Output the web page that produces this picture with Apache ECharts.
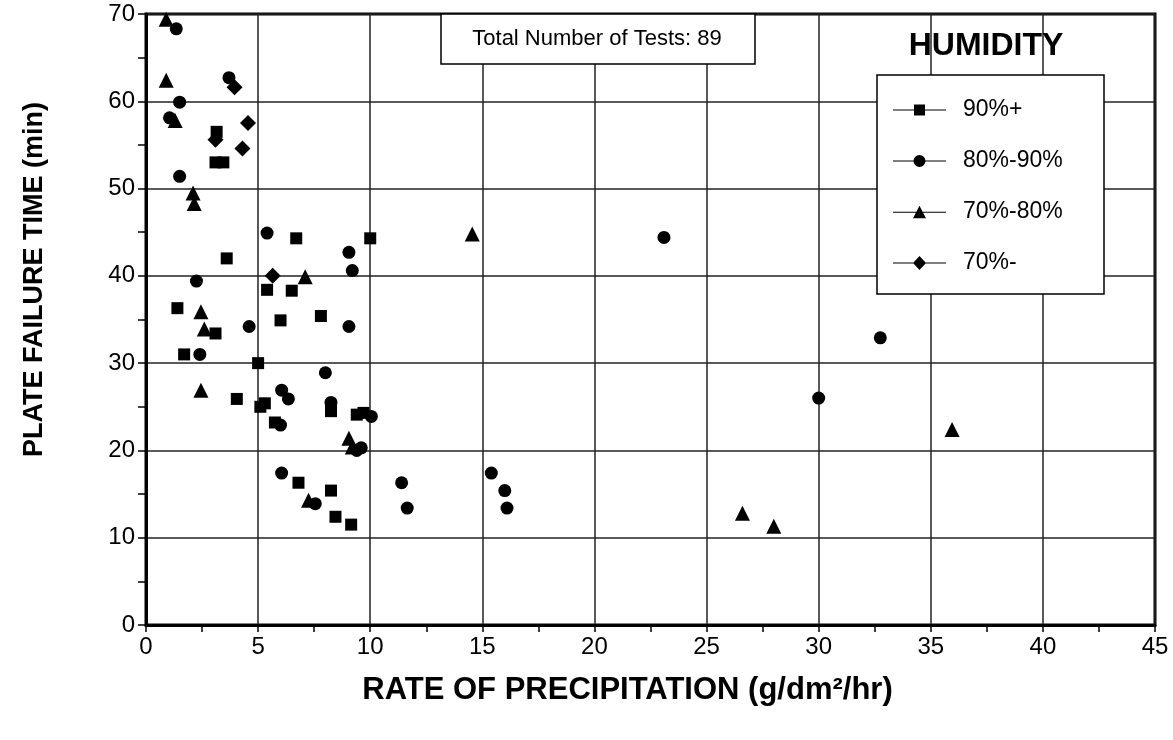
<!DOCTYPE html>
<html><head><meta charset="utf-8">
<script src="https://cdn.jsdelivr.net/npm/echarts@6/dist/echarts.min.js"></script>
<style>html,body{margin:0;padding:0;background:#fff}#c{width:1173px;height:740px}</style>
</head><body><div id="c"></div>
<script>
// Data: [rate of precipitation (g/dm²/hr), plate failure time (min)]
const humidity90plus = [
  [3.15,56.5],[3.1,53.0],[3.45,53.0],[6.7,44.3],[10.0,44.3],[3.6,42.0],[5.4,38.4],[6.5,38.3],
  [1.4,36.3],[6.0,34.9],[7.8,35.4],[3.1,33.4],[1.7,31.0],[5.0,30.0],[4.05,25.9],[5.1,25.0],
  [5.3,25.4],[5.75,23.2],[8.25,24.5],[9.4,24.1],[9.7,24.3],[6.8,16.3],[8.25,15.4],[8.45,12.4],[9.15,11.5]
];
const humidity80to90 = [
  [1.35,68.3],[3.7,62.7],[1.5,59.9],[1.05,58.1],[1.5,51.4],[5.4,44.9],[9.05,42.7],[9.2,40.6],
  [2.25,39.4],[4.6,34.2],[9.05,34.2],[2.4,31.0],[8.0,28.9],[6.05,26.9],[6.35,25.9],[8.25,25.5],
  [10.05,23.9],[6.0,22.9],[9.4,20.0],[9.6,20.3],[6.05,17.4],[7.55,13.9],[11.4,16.3],[11.65,13.4],
  [15.4,17.4],[16.0,15.4],[16.1,13.4],[23.1,44.4],[32.75,32.9],[30.0,26.0]
];
const humidity70to80 = [
  [0.9,69.4],[0.9,62.4],[1.3,57.8],[2.1,49.5],[2.15,48.3],[2.45,35.9],[2.6,33.9],[2.45,26.9],
  [7.1,39.9],[9.05,21.4],[9.2,20.4],[7.25,14.3],[14.55,44.8],[26.6,12.8],[28.0,11.3],[35.95,22.4]
];
const humidityBelow70 = [
  [3.95,61.6],[4.55,57.5],[3.1,55.6],[4.3,54.6],[5.65,40.0]
];
const seriesNames = ['90%+','80%-90%','70%-80%','70%-'];
const xTicks = {min:0, max:45, interval:5};
const yTicks = {min:0, max:70, interval:10};

const FONT = '"Liberation Sans", Arial, sans-serif';
const symbols = ['rect','circle','triangle','diamond'];
const sizes = [12,13,15,16];
const icons = [
  'path://M0,6.5L53,6.5L53,7.5L0,7.5Z M21,1.5L32,1.5L32,12.5L21,12.5Z',
  'path://M0,6.5L53,6.5L53,7.5L0,7.5Z M32.5,7A6,6 0 1 1 20.5,7A6,6 0 1 1 32.5,7Z',
  'path://M0,6.5L53,6.5L53,7.5L0,7.5Z M26.5,0.5L33,13L20,13Z',
  'path://M0,6.5L53,6.5L53,7.5L0,7.5Z M26.5,0L33,7L26.5,14L20,7Z'
];
const datasets = [humidity90plus, humidity80to90, humidity70to80, humidityBelow70];

const chart = echarts.init(document.getElementById('c'), null, {renderer:'canvas'});
chart.setOption({
  animation:false,
  backgroundColor:'#fff',
  grid:{left:146,right:18,top:14,bottom:115,show:true,borderColor:'#000',borderWidth:3,backgroundColor:'transparent'},
  xAxis:{type:'value',min:xTicks.min,max:xTicks.max,interval:xTicks.interval,
    name:'RATE OF PRECIPITATION (g/dm²/hr)',nameLocation:'middle',nameGap:50,
    nameTextStyle:{fontFamily:FONT,fontWeight:'bold',fontSize:31,color:'#000',padding:[0,46,0,0]},
    axisLine:{show:true,lineStyle:{color:'#000',width:3}},
    axisTick:{show:true,inside:false,length:7,lineStyle:{color:'#000',width:1.5}},
    minorTick:{show:true,splitNumber:2,length:7,lineStyle:{color:'#000',width:1.5}},
    axisLabel:{fontFamily:FONT,fontSize:24,color:'#000',margin:10},
    splitLine:{show:true,lineStyle:{color:'#222',width:1.5}}},
  yAxis:{type:'value',min:yTicks.min,max:yTicks.max,interval:yTicks.interval,
    name:'PLATE FAILURE TIME (min)',nameLocation:'middle',nameGap:98,
    nameTextStyle:{fontFamily:FONT,fontWeight:'bold',fontSize:27,color:'#000',padding:[0,0,0,80]},
    axisLine:{show:true,lineStyle:{color:'#000',width:3}},
    axisTick:{show:true,inside:false,length:8,lineStyle:{color:'#000',width:1.5}},
    minorTick:{show:true,splitNumber:2,length:8,lineStyle:{color:'#000',width:1.5}},
    axisLabel:{fontFamily:FONT,fontSize:24,color:'#000',margin:11},
    splitLine:{show:true,lineStyle:{color:'#222',width:1.5}}},
  legend:{left:893,top:98,orient:'vertical',padding:0,itemGap:27,itemWidth:53,itemHeight:14,
    textStyle:{fontFamily:FONT,fontSize:23,color:'#000',padding:[0,0,0,12],lineHeight:24},
    data:seriesNames.map((n,i)=>({name:n,icon:icons[i],itemStyle:{color:'#000'}})),
    selectedMode:false},
  graphic:[
    {type:'rect',z:100,shape:{x:441,y:14,width:314,height:50},style:{fill:'#fff',stroke:'#000',lineWidth:1.5}},
    {type:'text',z:101,style:{x:597,y:39,text:'Total Number of Tests: 89',font:'22px '+FONT,fill:'#000',textAlign:'center',textVerticalAlign:'middle'}},
    {type:'text',z:101,style:{x:986,y:46,text:'HUMIDITY',font:'bold 32px '+FONT,fill:'#000',textAlign:'center',textVerticalAlign:'middle'}},
    {type:'rect',z:1,shape:{x:877,y:75,width:227,height:219},style:{fill:'#fff',stroke:'#000',lineWidth:1.5}}
  ],
  series:datasets.map((d,i)=>({name:seriesNames[i],type:'scatter',data:d,symbol:symbols[i],symbolSize:sizes[i],
    itemStyle:{color:'#000',opacity:1},z:5}))
});
</script></body></html>
